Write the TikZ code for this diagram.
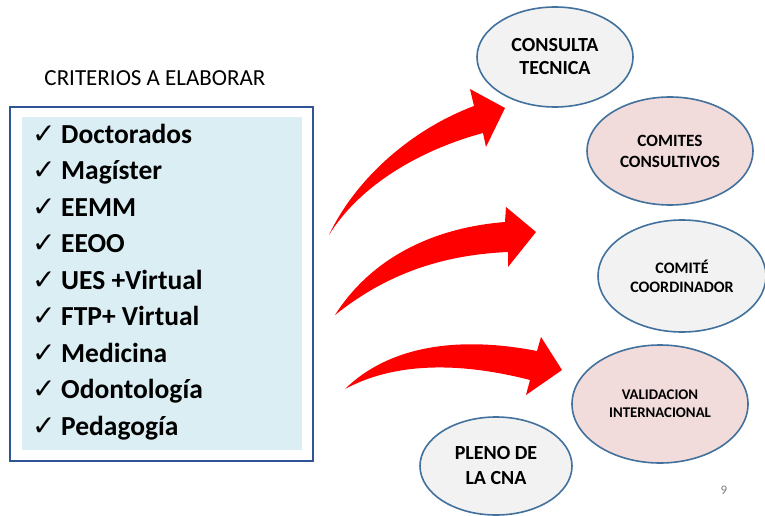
\documentclass[tikz,border=0pt]{standalone}
\usepackage{fontspec}
\setmainfont{Carlito}
\newfontfamily\symfont{DejaVu Sans}
\usetikzlibrary{shapes.geometric}
\definecolor{boxborder}{HTML}{2F5597}
\definecolor{boxfill}{HTML}{DAEEF3}
\definecolor{ellborder}{HTML}{41719C}
\definecolor{ellgray}{HTML}{F2F2F2}
\definecolor{ellpink}{HTML}{F2DCDB}
\definecolor{arrowred}{HTML}{FF0000}
\tikzset{
  ell/.style={ellipse, draw=ellborder, line width=1.6pt, inner sep=0pt, align=center, font=\bfseries},
  item/.style={anchor=base west, inner sep=0pt, font=\fontsize{27.5}{30}\selectfont\bfseries},
  chk/.style={anchor=base west, inner sep=0pt, font=\symfont\fontsize{28}{32}\selectfont},
  bigarrow/.style={fill=arrowred, draw=none}
}
\begin{document}
\begin{tikzpicture}[x=1pt,y=-1pt]
\useasboundingbox (0,0) rectangle (765,516);
\fill[white] (0,0) rectangle (765,516);

% title
\node[font=\fontsize{23}{26}\selectfont, inner sep=0pt] (title) at (155,78) {CRITERIOS A ELABORAR};

% list box
\draw[boxborder, line width=1.5pt] (10,107) rectangle (313,461);
\fill[boxfill] (22,117) rectangle (302,450);

\foreach \t [count=\i from 0] in {Doctorados,Mag\'{\i}ster,EEMM,EEOO,UES +Virtual,FTP+ Virtual,Medicina,Odontolog\'{\i}a,Pedagog\'{\i}a}{
  \node[chk] (c\i) at (32,143+36.5*\i) {✓};
  \node[item] (t\i) at (61,143+36.5*\i) {\t};
}

% ellipses
\node[ell, fill=ellgray, minimum width=156pt, minimum height=100pt, font=\fontsize{20}{23}\selectfont\bfseries] (ct) at (555,57) {CONSULTA\\TECNICA};
\node[ell, fill=ellpink, minimum width=166pt, minimum height=108pt, font=\fontsize{17.2}{21}\selectfont\bfseries] (cc) at (670,151) {COMITES\\CONSULTIVOS};
\node[ell, fill=ellgray, minimum width=168pt, minimum height=112pt, font=\fontsize{16}{19}\selectfont\bfseries] (co) at (682,276) {COMIT\'E\\COORDINADOR};
\node[ell, fill=ellpink, minimum width=176pt, minimum height=118pt, font=\fontsize{14.8}{18}\selectfont\bfseries] (vi) at (660,404) {VALIDACION\\INTERNACIONAL};
\node[ell, fill=ellgray, minimum width=152pt, minimum height=98pt, font=\fontsize{20}{25}\selectfont\bfseries] (pl) at (496,466) {PLENO DE\\LA CNA};

% page number
\node[text=gray, font=\fontsize{13}{15}\selectfont, inner sep=0pt] (pg) at (724,490) {9};

% curved block arrows
\fill[bigarrow] (329,235) .. controls (355,180) and (410,130) .. (474,106) -- (470,89) -- (505,108) -- (486,147) -- (483,133) .. controls (420,150) and (360,185) .. (329,235) -- cycle;
\fill[bigarrow] (335,315) .. controls (370,260) and (430,228) .. (505,222) -- (506,207) -- (536,232) -- (508,267) -- (508,252) .. controls (440,255) and (385,275) .. (335,315) -- cycle;
\fill[bigarrow] (345,389) .. controls (390,345) and (460,336) .. (537,351) -- (541,337) -- (562,370) -- (526,395) -- (530,380) .. controls (460,362) and (395,362) .. (345,389) -- cycle;
\end{tikzpicture}
\end{document}
